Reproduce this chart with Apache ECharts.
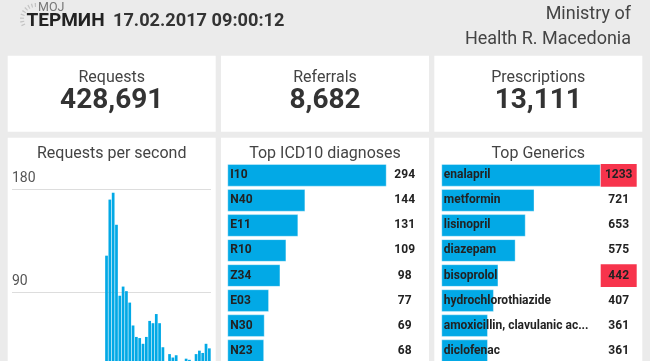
<!DOCTYPE html>
<html>
<head>
<meta charset="utf-8">
<script src="https://cdn.jsdelivr.net/npm/echarts@6/dist/echarts.min.js"></script>
<style>
  html, body { margin: 0; padding: 0; background: #ebebeb; }
  #chart { width: 650px; height: 361px; }
</style>
</head>
<body>
<div id="chart"></div>
<script>
// ---- data ----
const headerDate = '17.02.2017 09:00:12';
const ministryLines = ['Ministry of', 'Health R. Macedonia'];

const kpiLabels = ['Requests', 'Referrals', 'Prescriptions'];
const kpiValues = [428691, 8682, 13111];

const panelTitles = ['Requests per second', 'Top ICD10 diagnoses', 'Top Generics'];

const rpsTimes = [
  '08:59:13','08:59:14','08:59:15','08:59:16','08:59:17','08:59:18','08:59:19','08:59:20','08:59:21','08:59:22',
  '08:59:23','08:59:24','08:59:25','08:59:26','08:59:27','08:59:28','08:59:29','08:59:30','08:59:31','08:59:32',
  '08:59:33','08:59:34','08:59:35','08:59:36','08:59:37','08:59:38','08:59:39','08:59:40','08:59:41','08:59:42',
  '08:59:43','08:59:44','08:59:45','08:59:46','08:59:47','08:59:48','08:59:49','08:59:50','08:59:51','08:59:52',
  '08:59:53','08:59:54','08:59:55','08:59:56','08:59:57','08:59:58','08:59:59','09:00:00','09:00:01','09:00:02',
  '09:00:03','09:00:04','09:00:05','09:00:06','09:00:07','09:00:08','09:00:09','09:00:10','09:00:11','09:00:12'
];
const rpsValues = [
  0, 0, 0, 0, 0, 0, 0, 0, 0, 0,
  0, 0, 0, 0, 0, 0, 0, 0, 0, 0,
  0, 0, 0, 0, 0, 0, 0, 0, 122, 171,
  177, 149, 87, 95, 91, 81, 61, 51, 50, 45,
  51, 65, 63, 71, 63, 42, 22, 36, 33, 35,
  24, 26, 32, 31, 25, 36, 39, 37, 45, 41
];
const rpsMax = 180;
const rpsInterval = 90;

const icdCodes = ['I10', 'N40', 'E11', 'R10', 'Z34', 'E03', 'N30', 'N23'];
const icdCounts = [294, 144, 131, 109, 98, 77, 69, 68];
const icdFlagged = [];

const genericNames = ['enalapril', 'metformin', 'lisinopril', 'diazepam', 'bisoprolol',
  'hydrochlorothiazide', 'amoxicillin, clavulanic ac...', 'diclofenac'];
const genericCounts = [1233, 721, 653, 575, 442, 407, 361, 361];
const genericFlagged = ['enalapril', 'bisoprolol'];

// ---- styles ----
const FONT = 'Roboto';
const BLUE = '#02a9e6';
const RED = '#f7344c';
const panelW = 208;
const panelX = [7.7, 221, 434.3];
const topPanelY = 55.7, topPanelH = 76;
const botPanelY = 137.7, botPanelH = 240;

const chart = echarts.init(document.getElementById('chart'), null, { renderer: 'canvas' });

const graphics = [];
panelX.forEach(function (x) {
  graphics.push({ type: 'rect', z: -10, silent: true, shape: { x: x, y: topPanelY, width: panelW, height: topPanelH }, style: { fill: '#ffffff' } });
  graphics.push({ type: 'rect', z: -10, silent: true, shape: { x: x, y: botPanelY, width: panelW, height: botPanelH }, style: { fill: '#ffffff' } });
});
const fmt = new Intl.NumberFormat('en-US');
kpiLabels.forEach(function (lab, i) {
  const cx = panelX[i] + panelW / 2;
  graphics.push({ type: 'text', z: 10, x: cx, y: 77.5, style: { text: lab, fontFamily: FONT, fontSize: 16, fill: '#444', align: 'center', verticalAlign: 'middle' } });
  graphics.push({ type: 'text', z: 10, x: cx, y: 101, style: { text: fmt.format(kpiValues[i]), fontFamily: FONT, fontWeight: 'bold', fontSize: 28, fill: '#333', align: 'center', verticalAlign: 'middle' } });
});
panelTitles.forEach(function (t, i) {
  graphics.push({ type: 'text', z: 10, x: panelX[i] + panelW / 2, y: 153.5, style: { text: t, fontFamily: FONT, fontSize: 16, fill: '#444', align: 'center', verticalAlign: 'middle' } });
});
// header
graphics.push({ type: 'arc', z: 10, silent: true, shape: { cx: 36, cy: 19, r: 14, startAngle: Math.PI * 0.85, endAngle: Math.PI * 1.55 }, style: { stroke: '#c4c4c4', lineWidth: 4, lineDash: [1.2, 2.2], fill: null } });
graphics.push({ type: 'text', z: 11, x: 38, y: 8, style: { text: 'МОЈ', fontFamily: FONT, fontSize: 12.5, fill: '#777', align: 'left', verticalAlign: 'middle' } });
graphics.push({ type: 'text', z: 11, x: 26.5, y: 21, style: { text: 'ТЕРМИН', fontFamily: FONT, fontWeight: 'bold', fontSize: 19, fill: '#222', align: 'left', verticalAlign: 'middle' } });
graphics.push({ type: 'text', z: 11, x: 113, y: 21, style: { text: headerDate, fontFamily: FONT, fontWeight: 'bold', fontSize: 18.2, fill: '#333', align: 'left', verticalAlign: 'middle' } });
graphics.push({ type: 'text', z: 11, x: 631, y: 14, style: { text: ministryLines[0], fontFamily: FONT, fontSize: 18, fill: '#444', align: 'right', verticalAlign: 'middle' } });
graphics.push({ type: 'text', z: 11, x: 631, y: 39, style: { text: ministryLines[1], fontFamily: FONT, fontSize: 18, fill: '#444', align: 'right', verticalAlign: 'middle' } });

function valueAxisLabels(counts, names, flagged) {
  return {
    show: true, interval: 0, inside: false, margin: 18, align: 'center',
    formatter: function (val, idx) {
      return flagged.indexOf(names[idx]) >= 0 ? '{r|' + val + '}' : '{n|' + val + '}';
    },
    rich: {
      n: { fontFamily: FONT, fontWeight: 'bold', fontSize: 12, color: '#222', width: 36, height: 22.7, align: 'center', verticalAlign: 'middle' },
      r: { fontFamily: FONT, fontWeight: 'bold', fontSize: 12, color: '#222', backgroundColor: RED, width: 36, height: 22.7, lineHeight: 22.7, align: 'center', verticalAlign: 'middle' }
    }
  };
}

const gridTop = 162.8, gridH = 200.4;

const option = {
  backgroundColor: '#ebebeb',
  animation: false,
  textStyle: { fontFamily: FONT },
  graphic: graphics,
  grid: [
    { left: 12, width: 199, top: 189.3, height: 206, outerBoundsMode: 'none', containLabel: false },
    { left: 227.3, width: 159.4, top: gridTop, height: gridH, outerBoundsMode: 'none', containLabel: false },
    { left: 441.3, width: 159.4, top: gridTop, height: gridH, outerBoundsMode: 'none', containLabel: false }
  ],
  xAxis: [
    { gridIndex: 0, type: 'category', data: rpsTimes, axisLabel: { show: false }, axisTick: { show: false }, axisLine: { show: false } },
    { gridIndex: 1, type: 'value', min: 0, max: 'dataMax', show: false },
    { gridIndex: 2, type: 'value', min: 0, max: 'dataMax', show: false }
  ],
  yAxis: [
    { gridIndex: 0, type: 'value', min: 0, max: rpsMax, interval: rpsInterval,
      axisLine: { show: false }, axisTick: { show: false },
      splitLine: { lineStyle: { color: '#dddddd', width: 1 } },
      axisLabel: { inside: true, margin: 0, verticalAlign: 'bottom', fontFamily: FONT, fontSize: 14, color: '#555', lineHeight: 15, padding: [0, 0, 3, 0] } },
    { gridIndex: 1, type: 'category', inverse: true, data: icdCodes, z: 5,
      axisLine: { show: false }, axisTick: { show: false }, splitLine: { show: false },
      axisLabel: { inside: true, interval: 0, margin: 3, fontFamily: FONT, fontWeight: 'bold', fontSize: 12, color: '#222' } },
    { gridIndex: 1, type: 'category', inverse: true, position: 'right', data: icdCounts.map(String), z: 5,
      axisLine: { show: false }, axisTick: { show: false }, splitLine: { show: false },
      axisLabel: valueAxisLabels(icdCounts, icdCodes, icdFlagged) },
    { gridIndex: 2, type: 'category', inverse: true, data: genericNames, z: 5,
      axisLine: { show: false }, axisTick: { show: false }, splitLine: { show: false },
      axisLabel: { inside: true, interval: 0, margin: 2.5, fontFamily: FONT, fontWeight: 'bold', fontSize: 12, color: '#222' } },
    { gridIndex: 2, type: 'category', inverse: true, position: 'right', data: genericCounts.map(String), z: 5,
      axisLine: { show: false }, axisTick: { show: false }, splitLine: { show: false },
      axisLabel: valueAxisLabels(genericCounts, genericNames, genericFlagged) }
  ],
  series: [
    { type: 'bar', xAxisIndex: 0, yAxisIndex: 0, data: rpsValues, barCategoryGap: '18%',
      itemStyle: { color: BLUE } },
    { type: 'bar', xAxisIndex: 1, yAxisIndex: 1, data: icdCounts, barCategoryGap: '9.5%',
      itemStyle: { color: BLUE, borderColor: 'rgba(255,255,255,0.35)', borderWidth: 1 } },
    { type: 'bar', xAxisIndex: 2, yAxisIndex: 3, data: genericCounts, barCategoryGap: '9.5%',
      itemStyle: { color: BLUE, borderColor: 'rgba(255,255,255,0.35)', borderWidth: 1 } }
  ]
};
chart.setOption(option);
</script>
</body>
</html>
